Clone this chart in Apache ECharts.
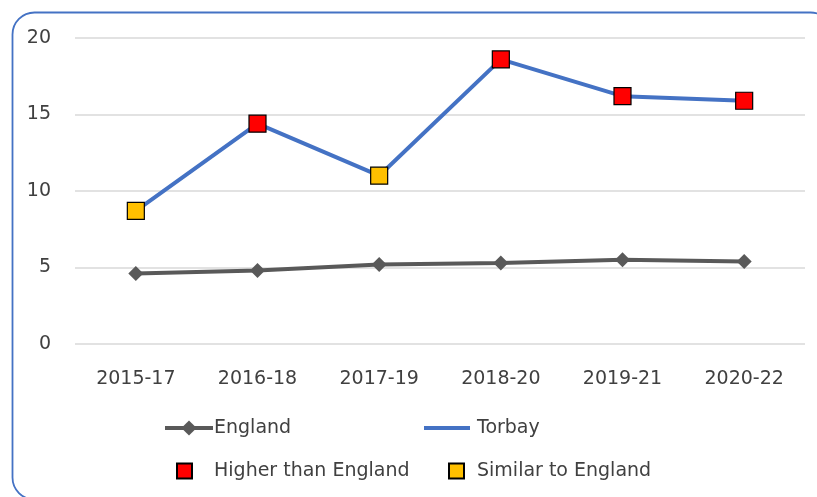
<!DOCTYPE html>
<html>
<head>
<meta charset="utf-8">
<script src="https://cdn.jsdelivr.net/npm/echarts@6/dist/echarts.min.js"></script>
<style>
html,body{margin:0;padding:0;background:#fff;}
#chart{width:817px;height:497px;}
</style>
</head>
<body>
<div id="chart"></div>
<script>
const categories = ['2015-17','2016-18','2017-19','2018-20','2019-21','2020-22'];
const englandValues = [4.6, 4.8, 5.2, 5.3, 5.5, 5.4];
const torbayValues = [8.7, 14.4, 11.0, 18.6, 16.2, 15.9];
const torbayStatus = ['similar','higher','similar','higher','higher','higher'];
const yTicks = [0, 5, 10, 15, 20];

const FONT = 'DejaVu Sans';
const TEXT = '#404040';

const higherData = categories.map((c, i) => torbayStatus[i] === 'higher' ? torbayValues[i] : null);
const similarData = categories.map((c, i) => torbayStatus[i] === 'similar' ? torbayValues[i] : null);

const chart = echarts.init(document.getElementById('chart'), null, {renderer: 'canvas'});
const legendText = {fontFamily: FONT, fontSize: 19, color: TEXT, lineHeight: 24};
chart.setOption({
  animation: false,
  backgroundColor: '#fff',
  graphic: [{
    type: 'rect',
    shape: {x: 12.5, y: 12.5, width: 820, height: 487, r: 22},
    style: {fill: 'none', stroke: '#4472C4', lineWidth: 1.8},
    silent: true, z: -1
  }],
  grid: {left: 75, right: 12, top: 38, bottom: 153, containLabel: false},
  xAxis: {
    type: 'category',
    data: categories,
    boundaryGap: true,
    axisLine: {show: false},
    axisTick: {show: false},
    axisLabel: {fontFamily: FONT, fontSize: 19, color: TEXT, margin: 26}
  },
  yAxis: {
    type: 'value',
    min: yTicks[0], max: yTicks[yTicks.length - 1], interval: 5,
    axisLine: {show: false},
    axisTick: {show: false},
    splitLine: {lineStyle: {color: '#d9d9d9', width: 1.5}},
    axisLabel: {fontFamily: FONT, fontSize: 19, color: TEXT, margin: 24, align: 'right'}
  },
  legend: [
    {data: ['England'], left: 163, top: 416, itemWidth: 48, itemHeight: 19, textStyle: Object.assign({}, legendText, {padding: [0,0,0,-4]}), padding: 0,
     lineStyle: {width: 4}},
    {data: [{name: 'Torbay', icon: 'rect'}], left: 424, top: 416, itemWidth: 46, itemHeight: 4, textStyle: Object.assign({}, legendText, {padding: [0,0,0,2]}), padding: 0},
    {data: ['Higher than England'], left: 176, top: 459, itemWidth: 15, itemHeight: 15, textStyle: Object.assign({}, legendText, {padding: [0,0,0,17]}), padding: 0},
    {data: ['Similar to England'], left: 448, top: 459, itemWidth: 15, itemHeight: 15, textStyle: Object.assign({}, legendText, {padding: [0,0,0,8]}), padding: 0}
  ],
  series: [
    {
      name: 'England', type: 'line', data: englandValues,
      symbol: 'diamond', symbolSize: 15,
      lineStyle: {color: '#595959', width: 4},
      itemStyle: {color: '#595959'}
    },
    {
      name: 'Torbay', type: 'line', data: torbayValues,
      symbol: 'none',
      lineStyle: {color: '#4472C4', width: 4},
      itemStyle: {color: '#4472C4'}
    },
    {
      name: 'Higher than England', type: 'scatter', data: higherData,
      symbol: 'rect', symbolSize: 17,
      itemStyle: {color: '#FF0000', borderColor: '#000', borderWidth: 1.2, opacity: 1}, z: 5
    },
    {
      name: 'Similar to England', type: 'scatter', data: similarData,
      symbol: 'rect', symbolSize: 17,
      itemStyle: {color: '#FFC000', borderColor: '#000', borderWidth: 1.2, opacity: 1}, z: 5
    }
  ]
});
</script>
</body>
</html>
